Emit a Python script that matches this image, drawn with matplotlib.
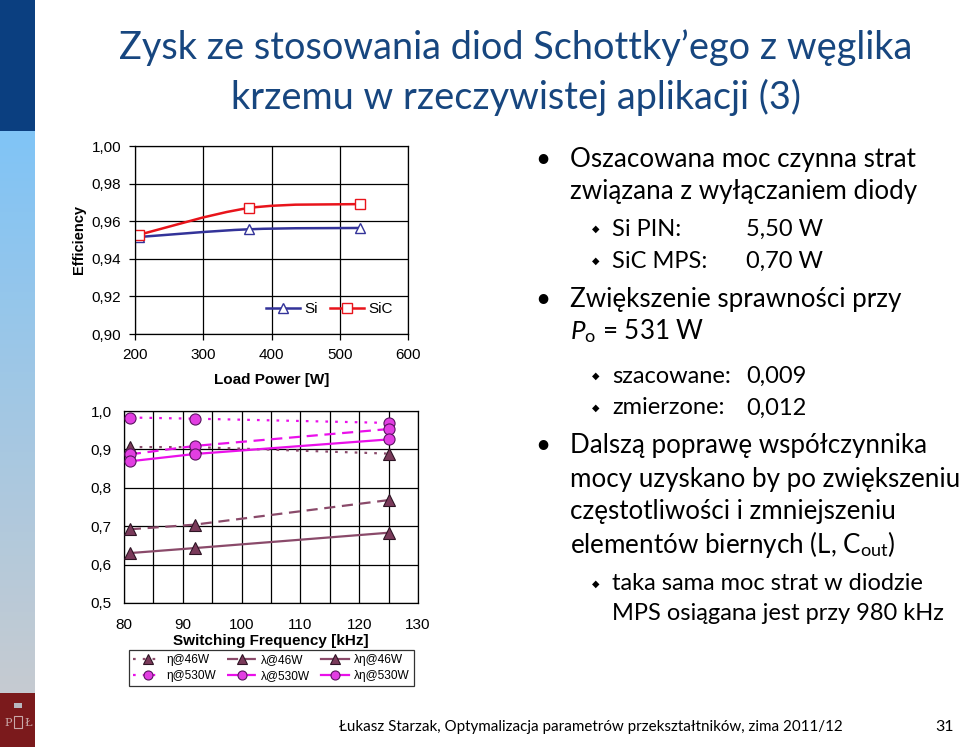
import matplotlib
matplotlib.use("Agg")
import matplotlib.pyplot as plt
import numpy as np
from matplotlib.path import Path
from matplotlib.patches import PathPatch, Rectangle
from matplotlib.lines import Line2D
from matplotlib.ticker import MultipleLocator, FuncFormatter

W, H = 959, 747

# top chart: efficiency vs load power
load_power = [206, 367, 530]
eff_si = [0.9516, 0.9557, 0.9564]
eff_sic = [0.9528, 0.9670, 0.9691]

# bottom chart: switching frequency
freq_khz = [81, 92, 125]
eta_46 = [0.906, 0.906, 0.889]
lam_46 = [0.692, 0.704, 0.768]
lameta_46 = [0.630, 0.643, 0.683]
eta_530 = [0.983, 0.980, 0.969]
lam_530 = [0.887, 0.909, 0.953]
lameta_530 = [0.869, 0.888, 0.926]

plt.rcParams["font.family"] = ["Lato", "DejaVu Sans"]
plt.rcParams["mathtext.fontset"] = "custom"
plt.rcParams["mathtext.rm"] = "Lato"
plt.rcParams["mathtext.it"] = "Lato:italic"
CHART_FONT = ["Liberation Sans", "DejaVu Sans"]


def fx(x):
    return x / W


def fy(y):
    return 1 - y / H


def axes_rect(left, top, right, bottom):
    return [fx(left), fy(bottom), (right - left) / W, (bottom - top) / H]


def smooth_path(xs, ys):
    # Excel-like smoothed line as cubic Bezier segments
    pts = np.column_stack([xs, ys]).astype(float)
    ext = np.vstack([pts[0], pts, pts[-1]])
    verts = [tuple(pts[0])]
    codes = [Path.MOVETO]
    for i in range(1, len(ext) - 2):
        p0, p1, p2, p3 = ext[i - 1], ext[i], ext[i + 1], ext[i + 2]
        c1 = p1 + (p2 - p0) / 6
        c2 = p2 - (p3 - p1) / 6
        verts += [tuple(c1), tuple(c2), tuple(p2)]
        codes += [Path.CURVE4] * 3
    return Path(verts, codes)


comma = lambda d: FuncFormatter(lambda v, _: f"{v:.{d}f}".replace(".", ","))

fig = plt.figure(figsize=(W / 100, H / 100), dpi=100)

# slide decorations: sidebar bands
bg = fig.add_axes([0, 0, 1, 1])
bg.set_xlim(0, W)
bg.set_ylim(H, 0)
bg.axis("off")
bg.add_patch(Rectangle((0, 0), 35, 131, color="#0b3f80", lw=0))
grad = np.linspace(0, 1, 200)[:, None]
c_top = np.array([0x80, 0xc4, 0xf6]) / 255
c_bot = np.array([0xc6, 0xcb, 0xd1]) / 255
img = c_top + (c_bot - c_top) * grad[..., None]
bg.imshow(img, extent=(0, 35, 693, 131), aspect="auto", zorder=0)
bg.add_patch(Rectangle((0, 693), 35, 54, color="#7b1a1c", lw=0))
bg.text(8, 723, "P", color="#c9a9a9", fontsize=8, ha="center", va="center", family="DejaVu Serif")
bg.text(28, 723, "Ł", color="#c9a9a9", fontsize=8, ha="center", va="center", family="DejaVu Serif")
bg.add_patch(Rectangle((13.5, 716), 8, 12, fill=False, ec="#c9a9a9", lw=0.8))
bg.add_patch(Rectangle((14, 703), 8, 5, color="#b8b8c0", lw=0))

# title
title_col = "#17467f"
fig.text(fx(516), fy(48), "Zysk ze stosowania diod Schottky’ego z węglika",
         ha="center", va="center", fontsize=27.3, color=title_col)
fig.text(fx(516), fy(97), "krzemu w rzeczywistej aplikacji (3)",
         ha="center", va="center", fontsize=27.3, color=title_col)

# top chart
ax1 = fig.add_axes(axes_rect(135, 146, 408, 334))
ax1.set_xlim(200, 600)
ax1.set_ylim(0.90, 1.00)
ax1.xaxis.set_major_locator(MultipleLocator(100))
ax1.yaxis.set_major_locator(MultipleLocator(0.02))
ax1.yaxis.set_major_formatter(comma(2))
ax1.grid(True, color="black", lw=0.9)
ax1.set_axisbelow(True)
ax1.add_patch(PathPatch(smooth_path(load_power, eff_si), fill=False, ec="#333399", lw=1.8))
ax1.add_patch(PathPatch(smooth_path(load_power, eff_sic), fill=False, ec="#e8141b", lw=1.8))
ax1.plot(load_power, eff_si, ls="none", marker="^", ms=7, mfc="white", mec="#333399", mew=1)
ax1.plot(load_power, eff_sic, ls="none", marker="s", ms=6.5, mfc="white", mec="#e8141b", mew=1)
h_si = Line2D([], [], color="#333399", lw=1.8, marker="^", ms=7, mfc="white", mec="#333399")
h_sic = Line2D([], [], color="#e8141b", lw=1.8, marker="s", ms=6.5, mfc="white", mec="#e8141b")
ax1.legend([h_si, h_sic], ["Si", "SiC"], ncol=2, frameon=False, loc="lower right",
           bbox_to_anchor=(0.995, 0.02), prop={"family": CHART_FONT, "size": 11},
           handlelength=2.2, columnspacing=0.8, handletextpad=0.3)
ax1.set_xlabel("Load Power [W]", family=CHART_FONT, fontsize=11, fontweight="bold", labelpad=8)
ax1.set_ylabel("Efficiency", family=CHART_FONT, fontsize=10.5, fontweight="bold", labelpad=4)
for lab in ax1.get_xticklabels() + ax1.get_yticklabels():
    lab.set_family(CHART_FONT)
    lab.set_fontsize(11)
ax1.tick_params(length=4, width=0.9, pad=6)
for s in ax1.spines.values():
    s.set_linewidth(0.9)

# bottom chart
ax2 = fig.add_axes(axes_rect(124, 411, 418, 603))
ax2.set_xlim(80, 130)
ax2.set_ylim(0.5, 1.0)
ax2.xaxis.set_major_locator(MultipleLocator(10))
ax2.xaxis.set_minor_locator(MultipleLocator(5))
ax2.yaxis.set_major_locator(MultipleLocator(0.1))
ax2.yaxis.set_major_formatter(comma(1))
ax2.grid(True, which="both", axis="x", color="black", lw=0.9)
ax2.grid(True, which="major", axis="y", color="black", lw=0.9)
ax2.set_axisbelow(True)

c46, f46, e46 = "#8a4a6a", "#7a3a5a", "#2e1424"
c530, f530, e530 = "#ea10ea", "#e23ee2", "#5a1460"
dot = (0, (1.2, 3.2))
dash = (0, (5, 3))
series = [
    ("η@46W", eta_46, c46, f46, e46, "^", dot),
    ("η@530W", eta_530, c530, f530, e530, "o", dot),
    ("λ@46W", lam_46, c46, f46, e46, "^", dash),
    ("λ@530W", lam_530, c530, f530, e530, "o", dash),
    ("λη@46W", lameta_46, c46, f46, e46, "^", "-"),
    ("λη@530W", lameta_530, c530, f530, e530, "o", "-"),
]
handles = []
for name, vals, lc, mf, me, mk, ls in series:
    ax2.plot(freq_khz, vals, color=lc, ls=ls, lw=1.6, zorder=3)
    ax2.plot(freq_khz, vals, ls="none", marker=mk, ms=8, mfc=mf, mec=me, mew=0.8, zorder=4)
    handles.append(Line2D([], [], color=lc, ls=ls, lw=1.6, marker=mk, ms=6.5, mfc=mf, mec=me, mew=0.8))
for lab in ax2.get_xticklabels() + ax2.get_yticklabels():
    lab.set_family(CHART_FONT)
    lab.set_fontsize(11)
ax2.tick_params(which="both", length=0, pad=11)
ax2.tick_params(axis="y", pad=9)
ax2.set_xlabel("Switching Frequency [kHz]", family=CHART_FONT, fontsize=11,
               fontweight="bold", labelpad=1)
for s in ax2.spines.values():
    s.set_linewidth(0.9)
leg = fig.legend(handles, [s[0] for s in series], ncol=3, loc="center",
                 bbox_to_anchor=(fx(271.5), fy(668)), prop={"family": CHART_FONT, "size": 8.6},
                 frameon=True, fancybox=False, edgecolor="black", handlelength=2.4,
                 handletextpad=0.4, columnspacing=0.9, borderpad=0.35, labelspacing=0.3)
leg.get_frame().set_linewidth(0.9)

# bullet text on the right
L1, L2 = 18.7, 17
BUL_X, TXT_X = 543, 570
DIA_X, TXT2_X, VAL_X = 596, 612, 746


def bullet(y, text):
    fig.text(fx(BUL_X), fy(y), "•", fontsize=L1, ha="center", va="center")
    fig.text(fx(TXT_X), fy(y), text, fontsize=L1, va="center")


def line1(y, text):
    fig.text(fx(TXT_X), fy(y), text, fontsize=L1, va="center")


def diamond(y, text, value=None):
    fig.text(fx(DIA_X), fy(y), "◆", fontsize=7, ha="center", va="center",
             family=["DejaVu Sans"])
    fig.text(fx(TXT2_X), fy(y), text, fontsize=L2, va="center")
    if value:
        fig.text(fx(VAL_X), fy(y), value, fontsize=L2, va="center")


def line2(y, text):
    fig.text(fx(TXT2_X), fy(y), text, fontsize=L2, va="center")


bullet(159, "Oszacowana moc czynna strat")
line1(191, "związana z wyłączaniem diody")
diamond(229, "Si PIN:", "5,50 W")
diamond(261, "SiC MPS:", "0,70 W")
bullet(300, "Zwiększenie sprawności przy")
line1(331, r"$P_\mathrm{o}$ = 531 W")
diamond(376, "szacowane:", "0,009")
diamond(408, "zmierzone:", "0,012")
bullet(446, "Dalszą poprawę współczynnika")
line1(479, "mocy uzyskano by po zwiększeniu")
line1(512, "częstotliwości i zmniejszeniu")
line1(544, r"elementów biernych (L, C$_\mathrm{out}$)")
diamond(584, "taka sama moc strat w diodzie")
line2(613, "MPS osiągana jest przy 980 kHz")

# footer
fig.text(fx(591), fy(727), "Łukasz Starzak, Optymalizacja parametrów przekształtników, zima 2011/12",
         ha="center", va="center", fontsize=10.9)
fig.text(fx(954), fy(727), "31", ha="right", va="center", fontsize=11.5)

fig.savefig("out.png", dpi=100)
